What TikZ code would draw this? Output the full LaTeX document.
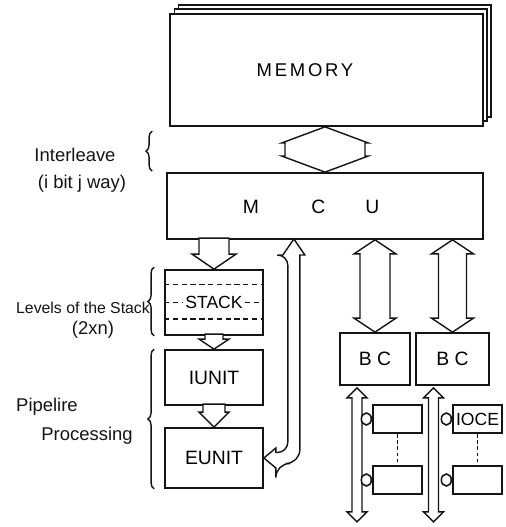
\documentclass[tikz,border=0pt]{standalone}
\usepackage{fontspec}
\setmainfont{Liberation Sans}
\usepackage{tikz}
\usetikzlibrary{shapes.geometric, positioning, calc, shadows, decorations.pathreplacing}
\definecolor{ink}{RGB}{20,20,20}
\tikzset{
  box/.style={rectangle, draw=ink, fill=white, line width=1pt,
    inner sep=0pt, font=\fontsize{11}{13}\selectfont},
  iobox/.style={rectangle, draw=ink, fill=white, line width=1pt,
    inner sep=0pt, minimum width=0.98cm, minimum height=0.57cm,
    font=\fontsize{10}{12}\selectfont},
  port/.style={ellipse, draw=ink, fill=white, line width=0.9pt,
    inner sep=0pt, minimum width=0.2cm, minimum height=0.24cm},
  fatarrow/.style={draw=ink, fill=white, line width=0.8pt, line join=miter},
  bracket/.style={draw=ink, line width=0.8pt, decorate,
    decoration={brace, amplitude=3.5pt}},
  lbl/.style={font=\fontsize{10.5}{12}\selectfont, text=ink, inner sep=0pt},
  dashline/.style={draw=ink, line width=0.8pt, dash pattern=on 3pt off 2pt},
  dotline/.style={draw=ink, line width=1pt, dash pattern=on 2pt off 1.5pt}
}
% double headed bus: top tip, bottom tip, head half width, shaft half width, head depth
\newcommand{\busarrow}[5]{%
  \draw[fatarrow] (#1) -- ++(-#3,#5) -- ++({#3-#4},0)
    -- ($(#2)+(-#4,-#5)$) -- ++({#4-#3},0) -- (#2)
    -- ++(#3,-#5) -- ++({#4-#3},0)
    -- ($(#1)+(#4,#5)$) -- ++({#3-#4},0) -- cycle;}

\begin{document}
\begin{tikzpicture}[x=0.02cm, y=-0.02cm]
  \useasboundingbox (0,0) rectangle (505,527);

  % Memory with its stacked sheets
  \node[box, minimum width=6.26cm, minimum height=2.24cm,
    general shadow={shadow xshift=0.16cm, shadow yshift=0.18cm, fill=white, draw=ink, line width=0.6pt},
    general shadow={shadow xshift=0.08cm, shadow yshift=0.1cm, fill=white, draw=ink, line width=0.6pt}]
    (mem) at (326.5,70) {};
  \node[font=\fontsize{10.5}{12}\selectfont\addfontfeatures{LetterSpace=15}] (memtxt) at (305,70) {MEMORY};

  % MCU
  \node[box, minimum width=6.32cm, minimum height=1.32cm] (mcu) at (325,206) {};
  \node[font=\fontsize{11}{13}\selectfont] (mcutxt) at (311,207) {M\hspace{1.05cm}C\hspace{0.8cm}U};

  % Stack and pipeline units
  \node[box, minimum width=1.96cm, minimum height=1.3cm] (stack) at (214,302.5) {};
  \node[font=\fontsize{10}{12}\selectfont, inner sep=1pt] (stacktxt) at (stack.center) {STACK};
  \draw[dashline] ($(stack.north west)!0.23!(stack.south west)$) -- ($(stack.north east)!0.23!(stack.south east)$);
  \draw[dashline] ($(stack.north west)!0.75!(stack.south west)$) -- ($(stack.north east)!0.75!(stack.south east)$);
  \draw[dashline] (stack.west) -- (stacktxt.west);
  \draw[dashline] (stacktxt.east) -- (stack.east);
  \node[box, minimum width=1.96cm, minimum height=1.1cm] (iunit) at (214,377.5) {IUNIT};
  \node[box, minimum width=1.96cm, minimum height=1.2cm] (eunit) at (214,458) {EUNIT};

  % Bus controllers
  \node[box, minimum width=1.4cm, minimum height=1.04cm] (bc1) at (375,359) {B C};
  \node[box, minimum width=1.46cm, minimum height=1.04cm] (bc2) at (452.5,359) {B C};

  % IO channel elements
  \node[iobox] (io11) at (397.5,419) {};
  \node[iobox] (io12) at (397.5,480) {};
  \node[iobox] (io21) at (477.5,419) {IOCE};
  \node[iobox] (io22) at (477.5,480) {};
  \draw[dotline] (io11.south) -- (io12.north);
  \draw[dotline] (io21.south) -- (io22.north);

  % Wide arrows
  \busarrow{mem.south -| mcu.north}{mcu.north}{43}{40}{16}
  \busarrow{mcu.south -| bc1.north}{bc1.north}{21}{15}{14}
  \busarrow{mcu.south -| bc2.north}{bc2.north}{21}{14}{14}
  \draw[fatarrow] (stack.north) -- ++(-22,-15) -- ++(7,0) -- ++(0,-16) -- ++(30,0) -- ++(0,16) -- ++(7,0) -- cycle;
  \draw[fatarrow] (iunit.north) -- ++(-15,-10) -- ++(6,0) -- ++(0,-5) -- ++(18,0) -- ++(0,5) -- ++(6,0) -- cycle;
  \draw[fatarrow] (eunit.north) -- ++(-15,-15) -- ++(4,0) -- ++(0,-8) -- ++(22,0) -- ++(0,8) -- ++(4,0) -- cycle;
  % return path EUNIT <-> MCU
  \draw[fatarrow] (eunit.east) -- ++(12,-10) -- ++(0,4.5) [rounded corners=6] -- ++(12,0) -- ++(0,-197.5)
    [sharp corners] -- ++(-5,0) -- ++(11,-16) -- ++(11,16) -- ++(-5,0) [rounded corners=8] -- ++(0,208.5)
    -- ++(-24,0) [sharp corners] -- ++(0,4.5) -- cycle;

  % IO buses
  \coordinate (bus1) at ($(bc1.south)+(-18,2)$);
  \coordinate (bus1end) at ($(bus1)+(0,134)$);
  \coordinate (bus2) at ($(bc2.south)+(-19,2)$);
  \coordinate (bus2end) at ($(bus2)+(0,134)$);
  \busarrow{bus1}{bus1end}{10}{5}{10}
  \busarrow{bus2}{bus2end}{10}{5}{10}
  \node[port, left=0pt of io11] (p11) {};
  \node[port, left=0pt of io12] (p12) {};
  \node[port, left=0pt of io21] (p21) {};
  \node[port, left=0pt of io22] (p22) {};

  % Braces and side labels
  \draw[bracket] ($(mcu.north west)+(-14,-1)$) -- ($(mcu.north west)+(-14,-41)$);
  \draw[bracket] ($(stack.south west)+(-10,0)$) -- ($(stack.north west)+(-10,-2)$);
  \draw[bracket] ($(eunit.south west)+(-10,0)$) -- ($(iunit.north west)+(-10,0)$);
  \node[lbl] (interleave) at (75,155) {Interleave};
  \node[lbl] (ijway) at (82,184) {(i bit j way)};
  \node[lbl, font=\fontsize{9}{10}\selectfont] (levels) at (83,308) {Levels of the Stack};
  \node[lbl] (twoxn) at (93,330) {(2xn)};
  \node[lbl] (pipe) at (47,407) {Pipelire};
  \node[lbl] (proc) at (87,436) {Processing};
\end{tikzpicture}
\end{document}
